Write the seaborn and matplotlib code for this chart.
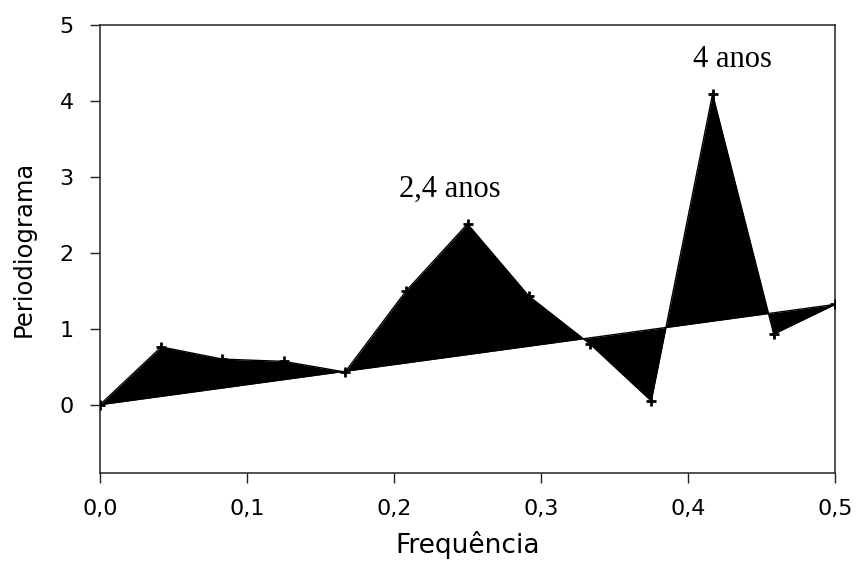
import numpy as np
import pandas as pd
import matplotlib
matplotlib.use("Agg")
import matplotlib.pyplot as plt
import seaborn as sns

# Periodogram ordinates at the Fourier frequencies
frequencia = [0.0, 0.0417, 0.0833, 0.125, 0.1667, 0.2083, 0.25,
              0.2917, 0.3333, 0.375, 0.4167, 0.4583, 0.5]
periodograma = [0.0, 0.76, 0.60, 0.57, 0.43, 1.50, 2.38,
                1.43, 0.80, 0.05, 4.09, 0.93, 1.32]

# Straight reference line between the end points
ref_freq = [0.0, 0.5]
ref_val = [0.0, 1.32]

# Peak annotations
rotulos = ["2,4 anos", "4 anos"]
rotulo_x = [0.238, 0.43]
rotulo_y = [2.83, 4.54]

x_ticks = [0.0, 0.1, 0.2, 0.3, 0.4, 0.5]
x_ticklabels = ["0,0", "0,1", "0,2", "0,3", "0,4", "0,5"]
y_ticks = [0, 1, 2, 3, 4, 5]

sns.set_theme(style="ticks")
plt.rcParams["font.family"] = ["DejaVu Sans"]

fig = plt.figure(figsize=(8.58, 5.64), dpi=100)
ax = fig.add_axes([0.1166, 0.1613, 0.8566, 0.7944])

df = pd.DataFrame({"freq": frequencia, "per": periodograma})
ref_interp = np.interp(df["freq"], ref_freq, ref_val)

ax.fill_between(df["freq"], df["per"], ref_interp, color="black",
                linewidth=0, interpolate=True, zorder=2)
sns.lineplot(x=ref_freq, y=ref_val, ax=ax, color="black", linewidth=1,
             zorder=3)
sns.lineplot(data=df, x="freq", y="per", ax=ax, color="black", linewidth=1,
             marker="+", markersize=7, markeredgewidth=2,
             markeredgecolor="black", zorder=4)

for txt, tx, ty in zip(rotulos, rotulo_x, rotulo_y):
    ax.text(tx, ty, txt, ha="center", va="center", fontsize=22,
            family=["Liberation Serif", "DejaVu Serif"], color="black")

ax.set_xlim(0, 0.5)
ax.set_ylim(-0.9, 5)
ax.set_xticks(x_ticks)
ax.set_xticklabels(x_ticklabels)
ax.set_yticks(y_ticks)

for s in ax.spines.values():
    s.set_visible(True)
    s.set_color("#222222")
    s.set_linewidth(1.1)

ax.tick_params(axis="both", direction="out", length=7, width=1,
               color="#222222", labelsize=16, labelcolor="black")
ax.tick_params(axis="x", pad=12)
ax.tick_params(axis="y", pad=12)

ax.set_xlabel("Frequência", fontsize=19, color="black", labelpad=8)
ax.set_ylabel("Periodiograma", fontsize=17.5, color="black", labelpad=17)

fig.savefig("out.png", dpi=100)
